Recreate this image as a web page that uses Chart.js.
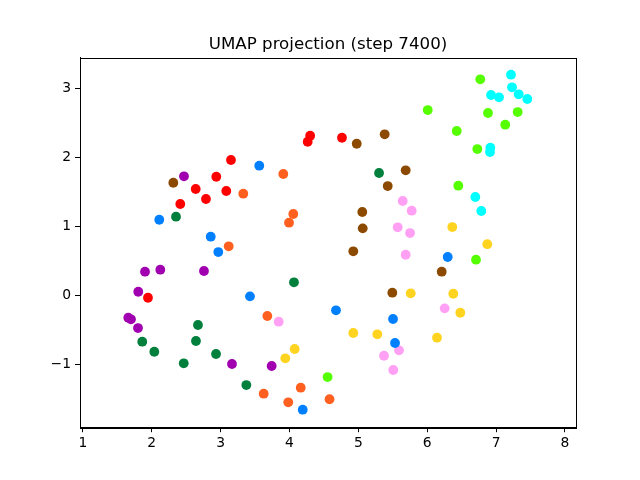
<!DOCTYPE html>
<html>
<head>
<meta charset="utf-8">
<script src="https://cdn.jsdelivr.net/npm/chart.js@4/dist/chart.umd.min.js"></script>
<style>html,body{margin:0;padding:0;background:#fff;}canvas{display:block;}</style>
</head>
<body>
<canvas id="c" width="640" height="480"></canvas>
<script>
const titleText = "UMAP projection (step 7400)";
const xTicks = [1, 2, 3, 4, 5, 6, 7, 8];
const yTicks = [-1, 0, 1, 2, 3];
const classColors = ["#ff0000", "#0080ff", "#ff6020", "#a000b0", "#00803c", "#8b4a00", "#ffa0f4", "#ffd420", "#55ff00", "#00ffff"];

const redX = [4.30, 4.264, 3.150, 2.937, 2.638, 3.082, 2.787, 2.414, 4.762, 1.945];
const redY = [2.316, 2.229, 1.964, 1.721, 1.543, 1.514, 1.398, 1.325, 2.287, -0.035];
const blueX = [3.561, 2.109, 2.856, 2.966, 3.426, 4.192, 6.297, 4.675, 5.503, 5.532];
const blueY = [1.881, 1.097, 0.851, 0.628, -0.015, -1.660, 0.556, -0.218, -0.344, -0.692];
const orangeX = [3.910, 3.329, 4.055, 3.993, 3.117, 3.678, 4.163, 3.625, 3.982, 4.581];
const orangeY = [1.761, 1.475, 1.180, 1.054, 0.711, -0.300, -1.341, -1.428, -1.553, -1.508];
const purpleX = [2.468, 1.902, 2.124, 2.758, 1.804, 1.659, 1.698, 1.800, 3.165, 3.741];
const purpleY = [1.727, 0.343, 0.372, 0.353, 0.052, -0.325, -0.348, -0.475, -0.997, -1.026];
const darkGreenX = [2.352, 4.065, 2.671, 1.862, 2.642, 2.037, 2.933, 2.464, 3.373, 5.300];
const darkGreenY = [1.141, 0.189, -0.431, -0.673, -0.663, -0.819, -0.852, -0.987, -1.302, 1.775];
const brownX = [2.313, 4.976, 5.382, 5.687, 5.426, 5.057, 5.063, 4.926, 6.210, 5.493];
const brownY = [1.634, 2.200, 2.337, 1.814, 1.586, 1.209, 0.972, 0.639, 0.343, 0.038];
const pinkX = [5.644, 5.774, 5.571, 5.750, 5.687, 6.253, 5.590, 5.372, 5.507, 3.843];
const pinkY = [1.369, 1.228, 0.987, 0.904, 0.589, -0.189, -0.798, -0.877, -1.084, -0.383];
const yellowX = [6.364, 6.872, 5.760, 6.378, 6.480, 4.926, 5.275, 6.142, 4.075, 3.939];
const yellowY = [0.991, 0.742, 0.029, 0.023, -0.253, -0.547, -0.566, -0.615, -0.779, -0.914];
const greenX = [6.770, 6.007, 6.882, 7.313, 7.133, 6.428, 6.727, 6.451, 6.708, 4.553];
const greenY = [3.135, 2.689, 2.646, 2.660, 2.476, 2.385, 2.123, 1.591, 0.517, -1.186];
const cyanX = [7.216, 7.231, 6.926, 7.042, 7.328, 7.453, 6.916, 6.911, 6.698, 6.785];
const cyanY = [3.202, 3.019, 2.907, 2.874, 2.917, 2.849, 2.142, 2.080, 1.427, 1.224];

const groupsX = [redX, blueX, orangeX, purpleX, darkGreenX, brownX, pinkX, yellowX, greenX, cyanX];
const groupsY = [redY, blueY, orangeY, purpleY, darkGreenY, brownY, pinkY, yellowY, greenY, cyanY];

const datasets = groupsX.map((xs, i) => ({
  data: xs.map((x, j) => ({x: x, y: groupsY[i][j]})),
  backgroundColor: classColors[i],
  borderColor: classColors[i],
  borderWidth: 0,
  pointRadius: 4.9,
  pointHoverRadius: 4.9
}));

const FONT = "'DejaVu Sans', sans-serif";

const framePlugin = {
  id: 'frame',
  afterDraw(chart) {
    const ctx = chart.ctx, a = chart.chartArea;
    ctx.save();
    ctx.strokeStyle = '#000';
    ctx.lineWidth = 1;
    ctx.strokeRect(Math.round(a.left) + 0.5, Math.round(a.top) + 0.5, Math.round(a.right - a.left), Math.round(a.bottom - a.top));
    ctx.fillStyle = '#000';
    ctx.font = "16.67px " + FONT;
    ctx.textAlign = 'center';
    ctx.textBaseline = 'middle';
    ctx.fillText(titleText, (a.left + a.right) / 2, 44.5);
    ctx.restore();
  }
};

const fmt = v => (v < 0 ? '\u2212' + Math.abs(v) : String(v));

new Chart(document.getElementById('c'), {
  type: 'scatter',
  data: { datasets },
  options: {
    responsive: false,
    animation: false,
    events: [],
    layout: { padding: { top: 57.6, right: 64, left: 0, bottom: 0 } },
    plugins: { legend: { display: false }, tooltip: { enabled: false }, title: { display: false } },
    scales: {
      x: {
        type: 'linear',
        min: 0.958,
        max: 8.16,
        afterBuildTicks: s => { s.ticks = xTicks.map(v => ({value: v})); },
        afterFit: s => { s.height = 52.8; },
        grid: { drawOnChartArea: false, drawTicks: true, tickLength: 5, color: '#000', tickColor: '#000' },
        border: { display: true, color: '#000' },
        ticks: { color: '#000', padding: 3, font: { family: FONT, size: 13.89 }, maxRotation: 0, autoSkip: false, callback: fmt }
      },
      y: {
        type: 'linear',
        min: -1.914,
        max: 3.45,
        afterBuildTicks: s => { s.ticks = yTicks.map(v => ({value: v})); },
        afterFit: s => { s.width = 80; },
        grid: { drawOnChartArea: false, drawTicks: true, tickLength: 5, color: '#000', tickColor: '#000' },
        border: { display: true, color: '#000' },
        ticks: { color: '#000', padding: 4, font: { family: FONT, size: 13.89 }, autoSkip: false, callback: fmt }
      }
    }
  },
  plugins: [framePlugin]
});
</script>
</body>
</html>
